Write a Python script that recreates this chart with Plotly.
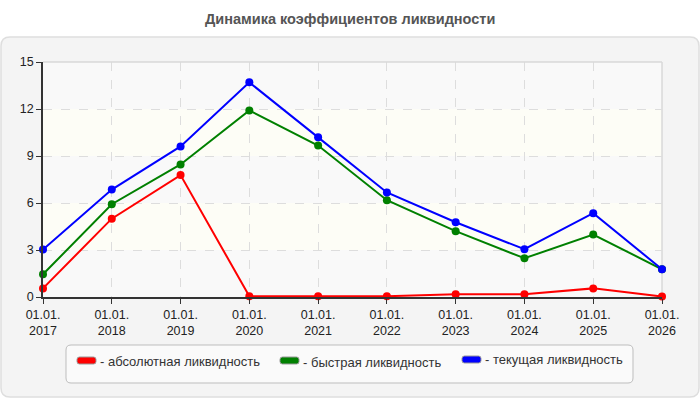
import plotly.graph_objects as go

years = [2017, 2018, 2019, 2020, 2021, 2022, 2023, 2024, 2025, 2026]
tick_labels = ["01.01.<br>" + str(y) for y in years]
absolute = [0.55, 5.0, 7.78, 0.05, 0.05, 0.05, 0.17, 0.17, 0.55, 0.03]
quick = [1.45, 5.92, 8.46, 11.91, 9.67, 6.18, 4.2, 2.47, 3.99, 1.77]
current = [3.03, 6.86, 9.61, 13.7, 10.19, 6.67, 4.77, 3.05, 5.35, 1.77]
names = ["- абсолютная ликвидность", "- быстрая ликвидность", "- текущая ликвидность"]
colors = ["#ff0000", "#008000", "#0000ff"]
title = "Динамика коэффициентов ликвидности"

W, H = 700, 400
L, R, T, B = 43, 662, 62, 297


def px(x):
    return (x - L) / (R - L)


def py(y):
    return (B - y) / (B - T)


def rrect(x0, y0, x1, y1, r):
    rx = r / (R - L)
    ry = r / (B - T)
    a, b, c, d = px(x0), py(y1), px(x1), py(y0)
    return (f"M {a+rx},{b} L {c-rx},{b} Q {c},{b} {c},{b+ry} L {c},{d-ry} "
            f"Q {c},{d} {c-rx},{d} L {a+rx},{d} Q {a},{d} {a},{d-ry} "
            f"L {a},{b+ry} Q {a},{b} {a+rx},{b} Z")


fig = go.Figure()
for vals, name, col in zip([absolute, quick, current], names, colors):
    fig.add_trace(go.Scatter(
        x=years, y=vals, name=name, mode="lines+markers",
        line=dict(color=col, width=2), marker=dict(color=col, size=8),
        cliponaxis=False, showlegend=False))

shapes = []
# outer panel
shapes.append(dict(type="path", path=rrect(1, 37, 699, 397, 9), xref="paper", yref="paper",
                   fillcolor="#f4f4f4", line=dict(color="#dedede", width=1.5), layer="below"))
# plot bands
bands = [(0, 3, "#f9f9f9"), (3, 6, "#fdfdf6"), (6, 9, "#f9f9f9"), (9, 12, "#fdfdf6"), (12, 15, "#f9f9f9")]
for y0, y1, c in bands:
    shapes.append(dict(type="rect", xref="paper", yref="y", x0=0, x1=1, y0=y0, y1=y1,
                       fillcolor=c, line=dict(width=0), layer="below"))
# plot border top/right
shapes.append(dict(type="line", xref="paper", yref="paper", x0=0, x1=1, y0=1, y1=1,
                   line=dict(color="#d8d8d8", width=1.5), layer="above"))
shapes.append(dict(type="line", xref="paper", yref="paper", x0=1, x1=1, y0=0, y1=1,
                   line=dict(color="#d8d8d8", width=1.5), layer="below"))
# legend box
shapes.append(dict(type="path", path=rrect(66, 345, 633, 383, 5), xref="paper", yref="paper",
                   fillcolor="#fafafa", line=dict(color="#bdbdbd", width=1), layer="above"))

legend_pos = [(77, 357, 364, 98, 361), (280, 357, 364, 301, 362), (462, 356, 363, 483, 359)]
annotations = []
for (sx, sy0, sy1, tx, ty), name, col in zip(legend_pos, names, colors):
    shapes.append(dict(type="path", path=rrect(sx, sy0, sx + 19, sy1, 2.5), xref="paper", yref="paper",
                       fillcolor=col, line=dict(color="#999999", width=1), layer="above"))
    annotations.append(dict(text=name, xref="paper", yref="paper", x=px(tx), y=py(ty),
                            xanchor="left", yanchor="middle", showarrow=False,
                            font=dict(size=13, color="#333333", family="Liberation Sans, Arial")))

annotations.append(dict(text="<b>" + title + "</b>", xref="paper", yref="paper", x=px(350), y=py(19),
                        xanchor="center", yanchor="middle", showarrow=False,
                        font=dict(size=14.5, color="#555555", family="Liberation Sans, Arial")))

fig.update_layout(
    width=W, height=H, margin=dict(l=L, r=W - R, t=T, b=H - B),
    paper_bgcolor="#ffffff", plot_bgcolor="rgba(0,0,0,0)",
    shapes=shapes, annotations=annotations, showlegend=False,
    font=dict(family="Liberation Sans, Arial", size=12, color="#222222"),
    xaxis=dict(range=[2017, 2026], tickvals=years, ticktext=tick_labels,
               showgrid=True, gridcolor="#dddddd", griddash="dash", gridwidth=1,
               showline=True, linecolor="#333333", linewidth=1.5,
               ticks="outside", ticklen=5, tickcolor="#333333", zeroline=False,
               tickfont=dict(size=12.5, color="#222222")),
    yaxis=dict(range=[0, 15], tickvals=[0, 3, 6, 9, 12, 15],
               showgrid=True, gridcolor="#dddddd", griddash="dash", gridwidth=1,
               showline=True, linecolor="#333333", linewidth=1.5,
               ticks="outside", ticklen=5, tickcolor="#333333", zeroline=False,
               tickfont=dict(size=12.5, color="#222222")),
)

fig.write_html("out.html")
